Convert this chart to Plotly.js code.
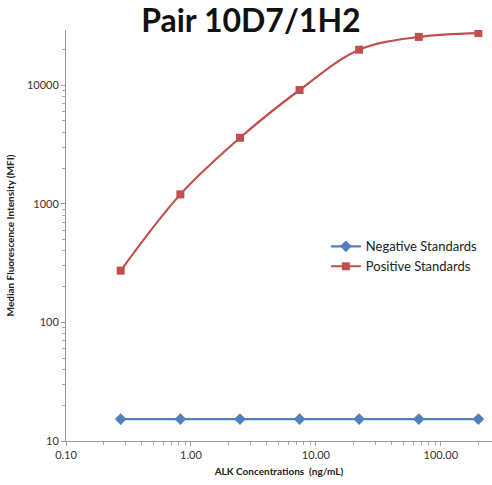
<!DOCTYPE html>
<html>
<head>
<meta charset="utf-8">
<script src="https://cdn.plot.ly/plotly-3.0.1.min.js"></script>
<style>html,body{margin:0;padding:0;background:#fff;}#chart{width:492px;height:485px;}</style>
</head>
<body>
<div id="chart"></div>
<script>
const concentrations = [0.274, 0.823, 2.47, 7.41, 22.2, 66.7, 200];
const negativeMFI = [15.3, 15.3, 15.3, 15.3, 15.3, 15.3, 15.3];
const positiveMFI = [273, 1200, 3600, 9100, 19900, 25500, 27500];
const xTickVals = [0.1, 1, 10, 100];
const xTickText = ["0.10", "1.00", "10.00", "100.00"];
const yTickVals = [10, 100, 1000, 10000];
const yTickText = ["10", "100", "1000", "10000"];

const F = "Lato, 'Open Sans', sans-serif";
const traces = [
  {x: concentrations, y: negativeMFI, name: "Negative Standards", type: "scatter", mode: "lines+markers",
   line: {color: "#4F81BD", width: 2.2, shape: "spline"},
   marker: {symbol: "diamond", size: 9, color: "#4F81BD"}},
  {x: concentrations, y: positiveMFI, name: "Positive Standards", type: "scatter", mode: "lines+markers",
   line: {color: "#C0504D", width: 2.2, shape: "spline"},
   marker: {symbol: "square", size: 8, color: "#C0504D"}}
];
const layout = {
  width: 492, height: 485,
  margin: {l: 66, r: 0, t: 30, b: 44},
  paper_bgcolor: "#fff", plot_bgcolor: "#fff",
  font: {family: F, color: "#333", size: 10},
  title: {text: "<b>Pair 10D7/1H2</b>", font: {family: F, size: 32, color: "#111"},
          x: 0.51, xanchor: "center", y: 0.958, yanchor: "middle", yref: "container"},
  xaxis: {type: "log", range: [-1, Math.log10(257)], tickmode: "array", tickvals: xTickVals, ticktext: xTickText,
          showline: true, linecolor: "#999", linewidth: 1, ticks: "outside", ticklen: 4, tickcolor: "#999",
          showgrid: false, zeroline: false, tickfont: {size: 11, color: "#333"},
          minor: {dtick: "D1", ticks: "outside", ticklen: 3, tickcolor: "#aaa", showgrid: false},
          title: {text: "<b>ALK Concentrations  (ng/mL)</b>", font: {size: 10, color: "#222"}, standoff: 7}},
  yaxis: {type: "log", range: [1, 4.465], tickmode: "array", tickvals: yTickVals, ticktext: yTickText,
          showline: true, linecolor: "#999", linewidth: 1, ticks: "outside", ticklen: 4, tickcolor: "#999",
          showgrid: false, zeroline: false, tickfont: {size: 11, color: "#333"},
          minor: {dtick: "D1", ticks: "outside", ticklen: 3, tickcolor: "#aaa", showgrid: false},
          title: {text: "<b>Median Fluorescence Intensity (MFI)</b>", font: {size: 10, color: "#222"}, standoff: 10}},
  legend: {x: 0.61, xanchor: "left", y: 0.51, yanchor: "top", bgcolor: "rgba(0,0,0,0)",
           font: {size: 13, color: "#222"}, tracegroupgap: 0, itemwidth: 30},
  showlegend: true
};
Plotly.newPlot("chart", traces, layout, {displayModeBar: false, staticPlot: true});
</script>
</body>
</html>
